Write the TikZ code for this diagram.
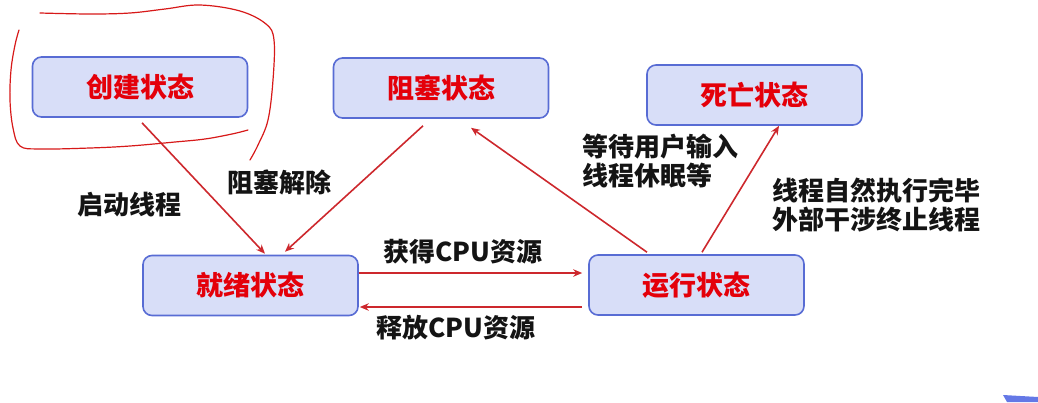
\documentclass[tikz,border=0pt]{standalone}
\usepackage{fontspec}
\newfontfamily\cjk{Noto Sans CJK SC}
\usetikzlibrary{arrows.meta,calc}
\definecolor{boxfill}{RGB}{216,222,248}
\definecolor{boxline}{RGB}{88,108,212}
\definecolor{statered}{RGB}{228,0,10}
\definecolor{arrowred}{RGB}{205,40,45}
\definecolor{penred}{RGB}{215,25,25}
\definecolor{labelblack}{RGB}{20,20,20}
\definecolor{cornerblue}{RGB}{100,120,230}
\tikzset{
  statebox/.style={draw=boxline, fill=boxfill, line width=1.6pt, rounded corners=9pt,
    minimum width=215pt, minimum height=60pt, inner sep=0pt,
    font=\cjk\bfseries\fontsize{27}{31}\selectfont, text=statered},
  lbl/.style={font=\cjk\bfseries\fontsize{26}{29.5}\selectfont, text=labelblack, inner sep=0pt},
  flow/.style={draw=arrowred, line width=1.6pt, -{Stealth[length=9pt,width=7.5pt]}},
  pen/.style={draw=penred, line width=1.2pt, line cap=round, line join=round}
}
\begin{document}
\begin{tikzpicture}[x=1pt,y=-1pt]
\useasboundingbox (0,0) rectangle (1038,402);
% states
\node[statebox] (create) at (140,87) {创建状态};
\node[statebox] (block) at (441,88) {阻塞状态};
\node[statebox] (death) at (754.5,95) {死亡状态};
\node[statebox] (ready) at (250.5,285.5) {就绪状态};
\node[statebox] (run) at (696.5,285) {运行状态};
% connectors
\draw[flow] ($(create.south)+(2,5)$) -- ($(ready.north)+(14.5,-1)$);
\draw[flow] ($(block.south)+(-18,7)$) -- ($(ready.north)+(34.5,-3)$);
\draw[flow] ($(run.north)+(-49.5,-2)$) -- ($(block.south)+(30,9)$);
\draw[flow] ($(run.north)+(5.5,-2)$) -- ($(death.south)+(24.5,0)$);
\draw[flow] ($(ready.east)+(0,-12.5)$) -- ($(run.west)+(-6,-12)$);
\draw[flow] ($(run.west)+(-6,22)$) -- ($(ready.east)+(1,21.5)$);
% labels
\node[lbl] (l1) at (129,205) {启动线程};
\node[lbl] (l2) at (279,182) {阻塞解除};
\node[lbl] (l3) at (463,252) {获得CPU资源};
\node[lbl] (l4) at (456,328) {释放CPU资源};
\node[lbl, anchor=west, align=left] (l5) at (582,161) {等待用户输入\\线程休眠等};
\node[lbl, anchor=west, align=left] (l6) at (772,205) {线程自然执行完毕\\外部干涉终止线程};
% hand-drawn loop
\draw[pen] plot[smooth, tension=0.6] coordinates {(40,13) (90,14) (130,13) (165,9) (200,5) (240,11) (266,24) (274,40) (273,80) (268,120) (258,145) (250,160)};
\draw[pen] plot[smooth, tension=0.6] coordinates {(248,130) (232,134) (205,139) (175,142) (130,146) (90,148) (40,149) (20,146) (13,128) (10,100) (11,70) (15,45) (19,30)};
% corner mark
\fill[cornerblue] (1003,395) -- (1038,397) -- (1038,402) -- (1007,402) -- cycle;
\end{tikzpicture}
\end{document}
